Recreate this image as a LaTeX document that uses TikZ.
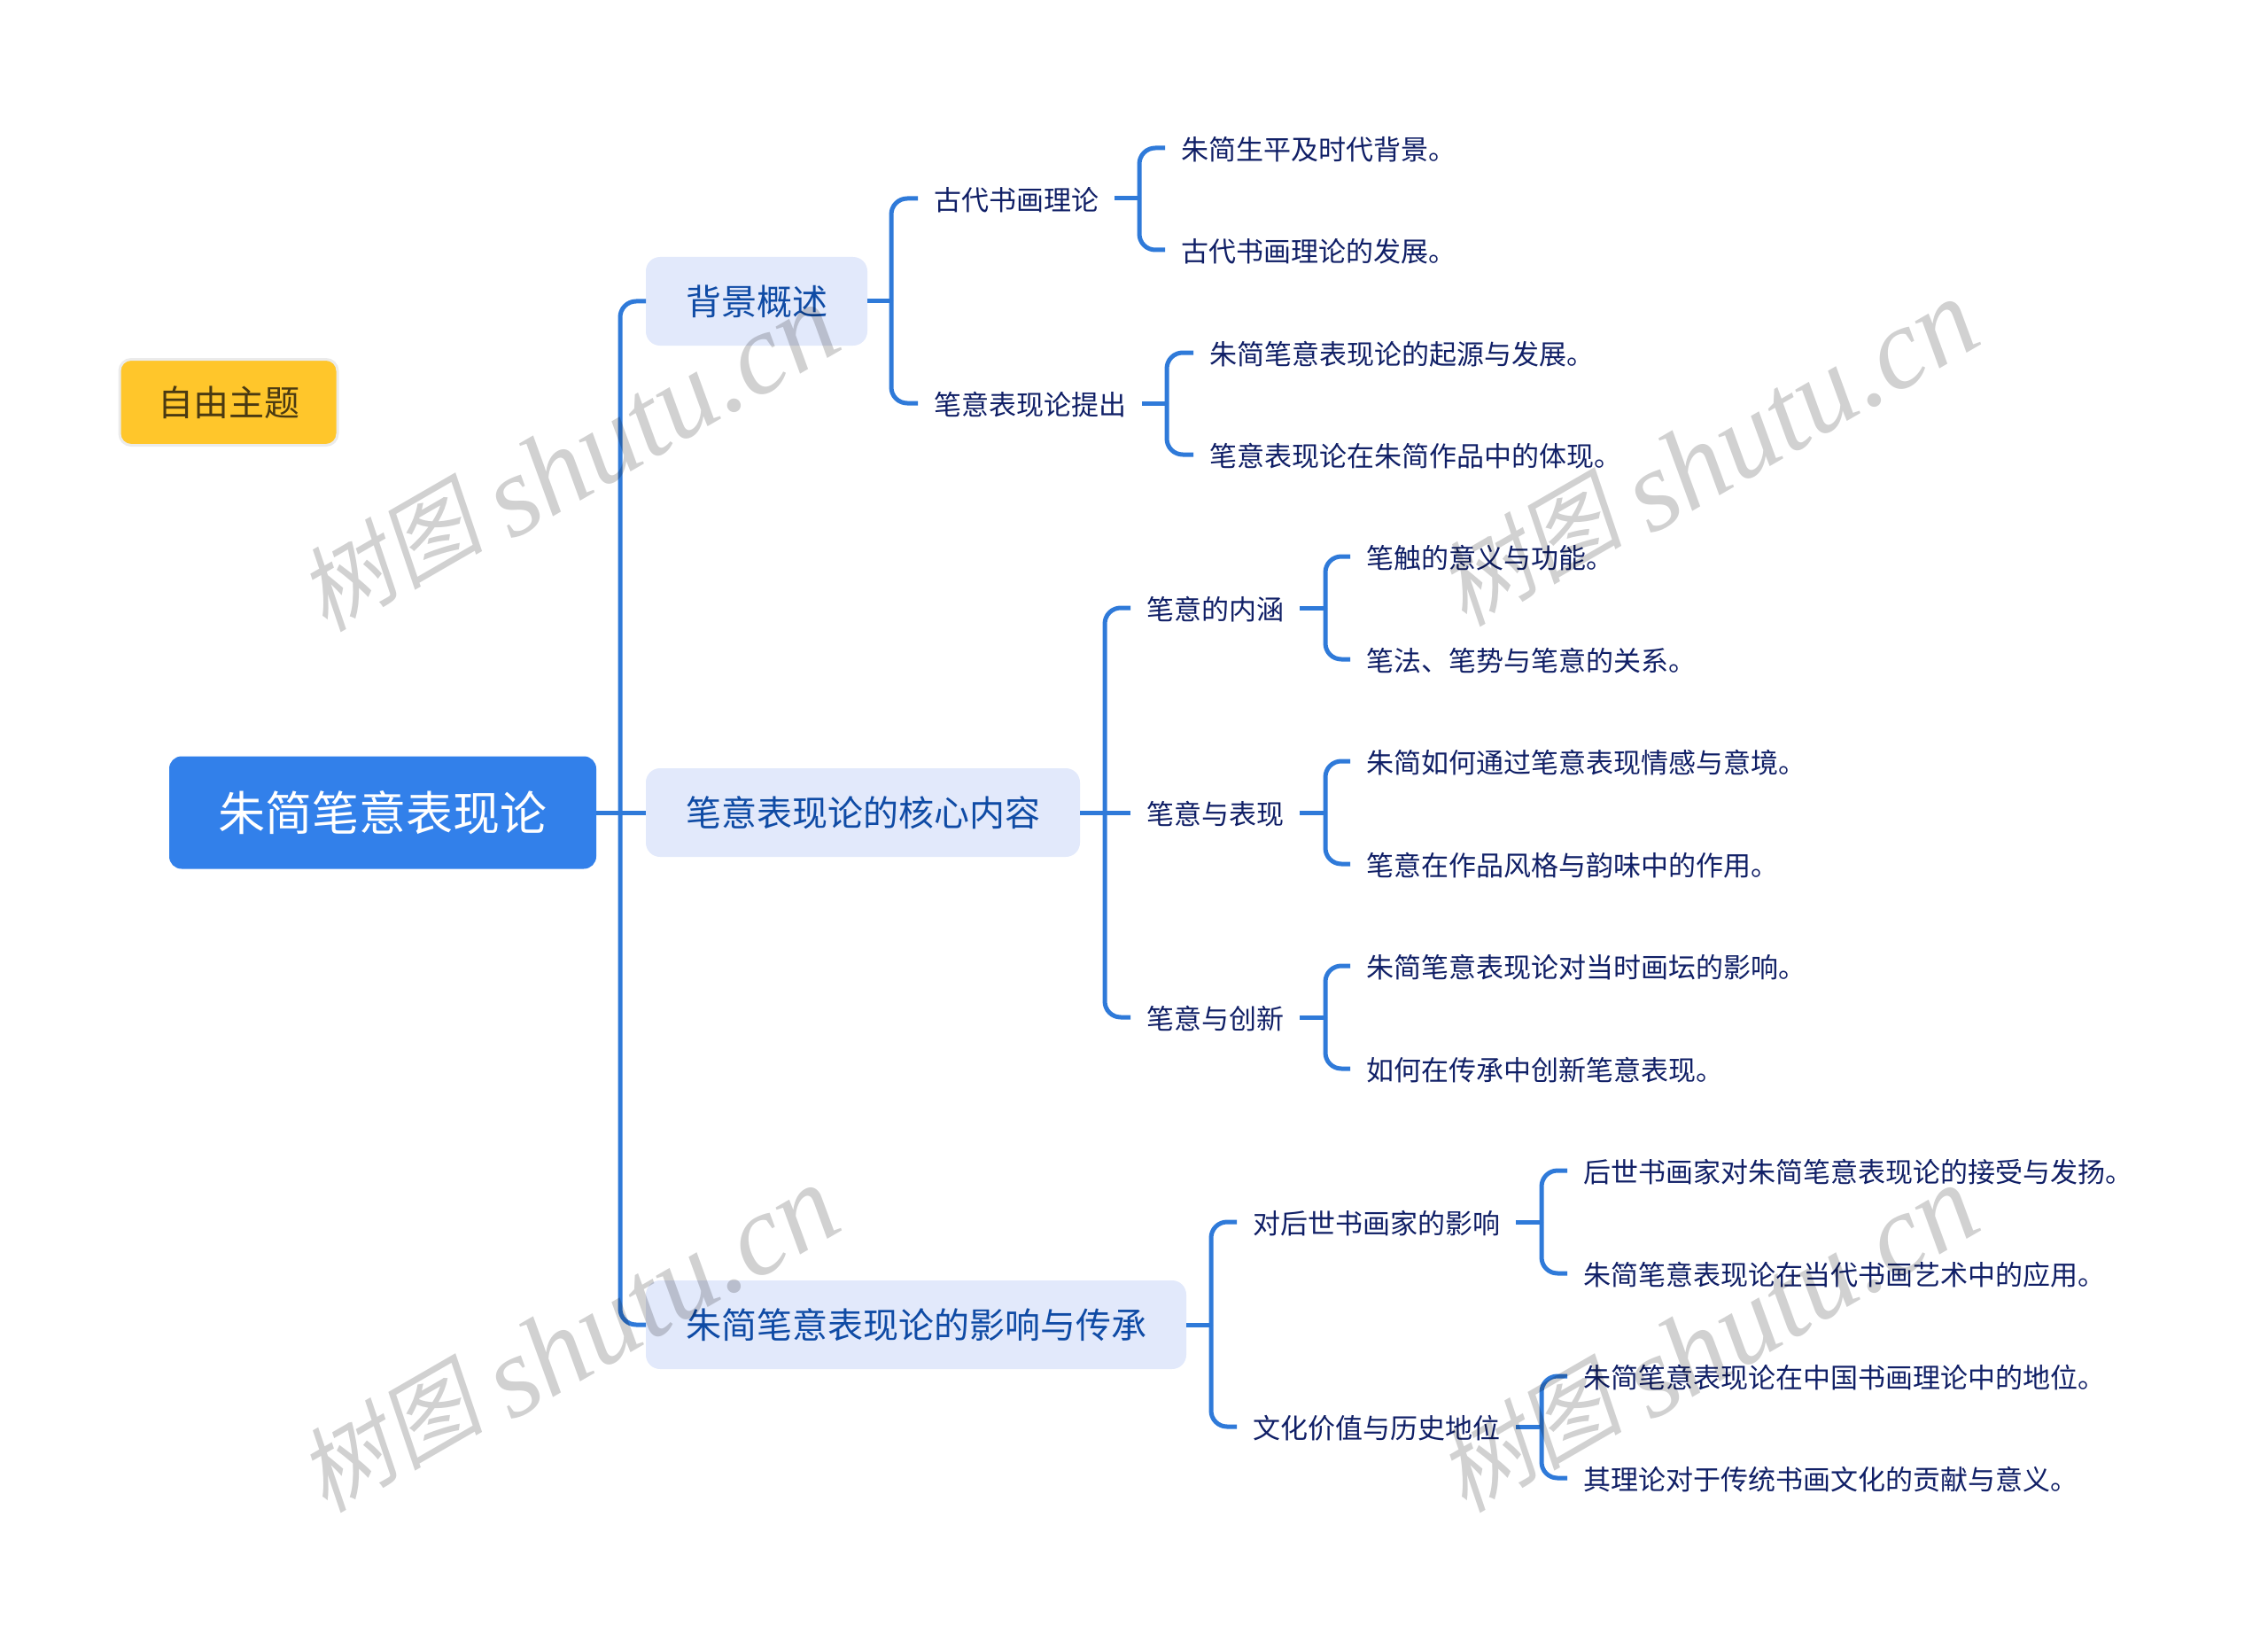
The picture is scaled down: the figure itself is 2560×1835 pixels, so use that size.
\documentclass[tikz,border=0pt]{standalone}
\usepackage{fontspec}
\setmainfont{Noto Sans CJK SC}
\newfontfamily\wmcjk[FakeSlant=0.2]{Noto Sans CJK SC}
\newfontfamily\wmlatin{Liberation Serif}
\definecolor{linkblue}{HTML}{2F7AD9}
\definecolor{rootblue}{HTML}{3280EA}
\definecolor{topicfill}{HTML}{E2E9FB}
\definecolor{topicink}{HTML}{0F4BA5}
\definecolor{leafink}{HTML}{101F66}
\definecolor{freefill}{HTML}{FFC62B}
\definecolor{freeink}{HTML}{4A3A12}
\tikzset{
  rootbox/.style={anchor=west,fill=rootblue,text=white,rounded corners=14pt,inner xsep=55.5pt,inner ysep=0pt,
    minimum height=127pt,outer sep=0pt,text height=46.6pt,text depth=6.4pt,font=\fontsize{53}{53}\selectfont},
  topicbox/.style={anchor=west,fill=topicfill,text=topicink,rounded corners=16pt,inner xsep=45pt,inner ysep=0pt,
    minimum height=100pt,outer sep=0pt,text height=35.2pt,text depth=4.8pt,font=\fontsize{40}{40}\selectfont},
  freebox/.style={fill=freefill,text=freeink,draw=black!8,line width=3pt,rounded corners=13pt,inner xsep=43pt,inner ysep=0pt,
    minimum height=97pt,text height=35.2pt,text depth=4.8pt,font=\fontsize{40}{40}\selectfont},
  leaf/.style={anchor=west,text=leafink,inner xsep=18pt,inner ysep=0pt,outer sep=0pt,
    text height=28.9pt,text depth=2.1pt,font=\fontsize{31}{31}\selectfont},
  link/.style={draw=linkblue,line width=5pt},
  wmark/.style={rotate=30,text=black,text opacity=0.18,inner sep=0pt,font=\fontsize{105}{105}\selectfont}
}
\newcommand{\branch}[3]{
  \coordinate (#1j) at ([xshift=#2]#1.east);
  \draw[link] (#1.east) -- (#1j);
  \foreach \kid in {#3}
    \draw[link,rounded corners=18pt] (#1j) |- (\kid.west);
}
\newcommand{\wm}[3]{\node[wmark] (#1) at (#2,#3) {\raisebox{14pt}{\wmcjk 树图} {\wmlatin\itshape\fontsize{130}{130}\selectfont shutu.cn}};}
\begin{document}
\begin{tikzpicture}[x=1pt,y=-1pt]
  \useasboundingbox (0,0) rectangle (2560,1835);

  \node[freebox] (free) at (258,454) {自由主题};
  \node[rootbox] (root) at (191,917) {朱简笔意表现论};

  \node[topicbox] (bg) at (729,340) {背景概述};
  \node[topicbox] (core) at (729,917) {笔意表现论的核心内容};
  \node[topicbox] (heir) at (729,1495) {朱简笔意表现论的影响与传承};

  \node[leaf] (bgA) at (1036,224) {古代书画理论};
  \node[leaf] (bgB) at (1036,455) {笔意表现论提出};
  \node[leaf] (coreA) at (1276,686) {笔意的内涵};
  \node[leaf] (coreB) at (1276,917) {笔意与表现};
  \node[leaf] (coreC) at (1276,1148) {笔意与创新};
  \node[leaf] (heirA) at (1396,1379) {对后世书画家的影响};
  \node[leaf] (heirB) at (1396,1610) {文化价值与历史地位};

  \node[leaf] (a1) at (1315,167) {朱简生平及时代背景。};
  \node[leaf] (a2) at (1315,282) {古代书画理论的发展。};
  \node[leaf] (b1) at (1347,398) {朱简笔意表现论的起源与发展。};
  \node[leaf] (b2) at (1347,513) {笔意表现论在朱简作品中的体现。};
  \node[leaf] (c1) at (1524,628) {笔触的意义与功能。};
  \node[leaf] (c2) at (1524,744) {笔法、笔势与笔意的关系。};
  \node[leaf] (d1) at (1524,859) {朱简如何通过笔意表现情感与意境。};
  \node[leaf] (d2) at (1524,975) {笔意在作品风格与韵味中的作用。};
  \node[leaf] (e1) at (1524,1090) {朱简笔意表现论对当时画坛的影响。};
  \node[leaf] (e2) at (1524,1206) {如何在传承中创新笔意表现。};
  \node[leaf] (f1) at (1769,1321) {后世书画家对朱简笔意表现论的接受与发扬。};
  \node[leaf] (f2) at (1769,1437) {朱简笔意表现论在当代书画艺术中的应用。};
  \node[leaf] (g1) at (1769,1553) {朱简笔意表现论在中国书画理论中的地位。};
  \node[leaf] (g2) at (1769,1668) {其理论对于传统书画文化的贡献与意义。};

  \branch{root}{27}{bg,heir}
  \draw[link] (rootj) -- (core.west);
  \branch{bg}{27}{bgA,bgB}
  \branch{core}{28}{coreA,coreC}
  \draw[link] (corej) -- (coreB.west);
  \branch{heir}{28}{heirA,heirB}
  \branch{bgA}{28}{a1,a2}
  \branch{bgB}{28}{b1,b2}
  \branch{coreA}{29}{c1,c2}
  \branch{coreB}{29}{d1,d2}
  \branch{coreC}{29}{e1,e2}
  \branch{heirA}{29}{f1,f2}
  \branch{heirB}{29}{g1,g2}

  \wm{wmA}{640}{516}
  \wm{wmB}{1926}{510}
  \wm{wmC}{640}{1510}
  \wm{wmD}{1926}{1510}
\end{tikzpicture}
\end{document}
